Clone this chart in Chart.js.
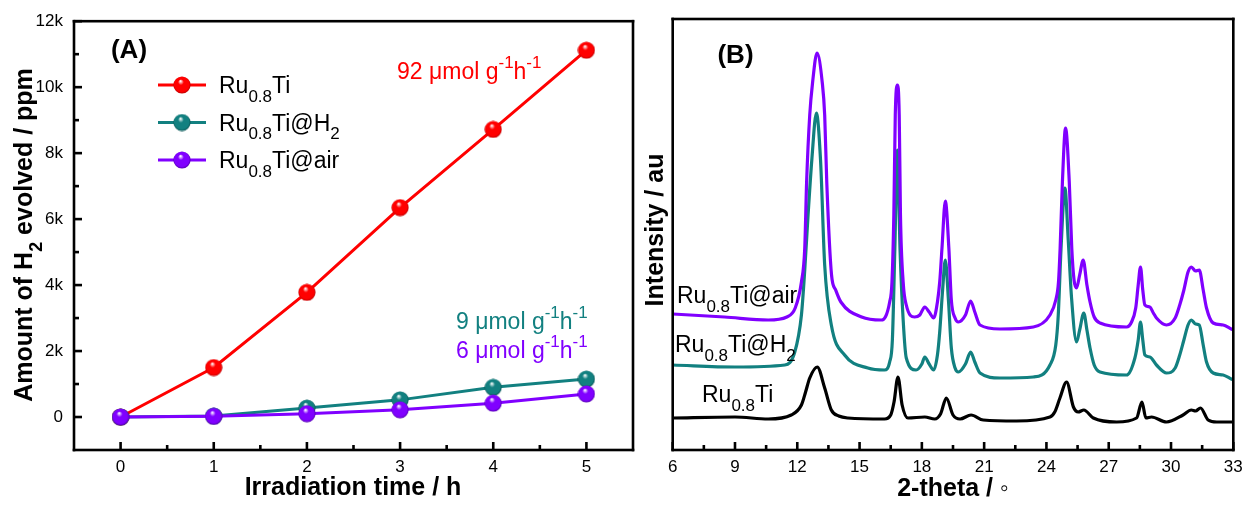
<!DOCTYPE html>
<html>
<head>
<meta charset="utf-8">
<script src="https://cdn.jsdelivr.net/npm/chart.js@4.4.1/dist/chart.umd.min.js"></script>
<style>
html, body { margin: 0; padding: 0; background: #fff; }
#wrap { position: relative; width: 1253px; height: 508px; overflow: hidden; }
#chartA { position: absolute; left: 0; top: 0; }
#chartB { position: absolute; left: 630px; top: 0; }
</style>
</head>
<body>
<div id="wrap">
  <canvas id="chartA" width="645" height="508"></canvas>
  <canvas id="chartB" width="623" height="508"></canvas>
</div>
<script>
// ---- panel (A): H2 evolution ----
const timeH = [0, 1, 2, 3, 4, 5]
const h2Ru = [0, 1500, 3780, 6350, 8720, 11120]
const h2RuH2 = [0, 30, 270, 520, 900, 1150]
const h2RuAir = [0, 20, 100, 220, 420, 700]
const seriesNames = ['Ru_{0.8}Ti', 'Ru_{0.8}Ti@H_{2}', 'Ru_{0.8}Ti@air']
const xTicksA = [0, 1, 2, 3, 4, 5]
const yTicksA = [0, 2000, 4000, 6000, 8000, 10000, 12000]
const yTickLabelsA = ['0', '2k', '4k', '6k', '8k', '10k', '12k']
const rateLabels = ['92 μmol g^{-1}h^{-1}', '9 μmol g^{-1}h^{-1}', '6 μmol g^{-1}h^{-1}']

// ---- panel (B): XRD patterns (intensity in arbitrary units) ----
const thetaAir = [6.0, 8.5, 10.6, 11.5, 11.9, 12.2, 12.36, 12.45, 12.6, 12.74, 12.95, 13.2, 13.32, 13.42, 13.65, 13.85, 14.1, 15.1, 16.05, 16.45, 16.56, 16.65, 16.72, 16.82, 16.91, 16.97, 17.1, 17.25, 17.65, 17.9, 18.14, 18.35, 18.57, 18.75, 18.86, 18.97, 19.13, 19.3, 19.42, 19.6, 19.76, 20.1, 20.35, 20.55, 20.8, 21.76, 23.37, 24.17, 24.45, 24.58, 24.66, 24.77, 24.92, 25.1, 25.22, 25.33, 25.45, 25.6, 25.77, 25.95, 26.1, 26.3, 26.58, 27.86, 28.1, 28.3, 28.42, 28.53, 28.64, 28.74, 28.98, 29.15, 29.3, 29.78, 30.2, 30.42, 30.62, 30.82, 30.98, 31.18, 31.36, 31.55, 31.71, 32.03, 32.51, 32.9, 33.0]
const intAir = [136, 133, 130, 133, 142, 168, 202, 268, 335, 368, 397, 368, 335, 268, 175, 160, 148, 133, 130, 148, 168, 235, 335, 365, 335, 235, 168, 145, 133, 135, 143, 138, 132, 148, 168, 202, 249, 202, 150, 132, 128, 135, 149, 138, 125, 121, 123, 135, 150, 168, 202, 268, 322, 268, 202, 170, 162, 175, 190, 165, 148, 133, 127, 123, 128, 142, 165, 183, 160, 145, 143, 137, 132, 125, 132, 145, 160, 178, 183, 179, 180, 160, 142, 127, 125, 121, 120]
const thetaH2 = [6.0, 9.0, 11.4, 11.88, 12.2, 12.36, 12.52, 12.7, 12.92, 13.12, 13.32, 13.64, 14.28, 15.4, 16.2, 16.45, 16.58, 16.7, 16.82, 16.95, 17.1, 17.25, 17.72, 18.0, 18.14, 18.35, 18.57, 18.75, 18.86, 19.0, 19.13, 19.28, 19.42, 19.6, 19.76, 20.1, 20.35, 20.55, 20.8, 21.76, 23.37, 24.17, 24.45, 24.57, 24.7, 24.89, 25.05, 25.21, 25.45, 25.6, 25.8, 25.95, 26.1, 26.3, 26.58, 27.86, 28.26, 28.42, 28.53, 28.64, 28.74, 28.98, 29.3, 29.78, 30.2, 30.42, 30.62, 30.82, 30.98, 31.18, 31.36, 31.55, 31.71, 32.03, 32.51, 32.9, 33.0]
const intH2 = [85, 83, 85, 98, 135, 180, 235, 290, 337, 290, 185, 125, 95, 82, 80, 88, 110, 202, 300, 200, 130, 92, 80, 86, 93, 86, 80, 95, 118, 160, 190, 150, 102, 82, 78, 86, 98, 88, 77, 72, 73, 85, 105, 135, 200, 262, 210, 152, 108, 120, 137, 120, 102, 85, 78, 75, 92, 110, 128, 110, 95, 93, 85, 77, 82, 95, 110, 125, 130, 126, 125, 105, 88, 77, 75, 71, 70]
const thetaRu = [6.0, 9.0, 10.6, 11.71, 12.2, 12.4, 12.6, 12.96, 13.32, 13.64, 14.0, 14.44, 16.2, 16.5, 16.66, 16.85, 17.05, 17.33, 18.14, 18.62, 18.9, 19.18, 19.5, 19.84, 20.37, 20.96, 22.56, 24.17, 24.4, 24.65, 24.97, 25.3, 25.53, 25.8, 26.26, 27.38, 28.34, 28.6, 28.79, 29.06, 29.78, 30.58, 30.98, 31.18, 31.42, 31.79, 32.2, 33.0]
const intRu = [32, 33, 31, 35, 45, 58, 72, 83, 62, 40, 34, 32, 31, 35, 48, 73, 45, 32, 33, 31, 36, 52, 35, 31, 35, 30, 29, 33, 38, 52, 68, 43, 38, 40, 32, 28, 32, 48, 32, 33, 28, 35, 40, 39, 42, 30, 28, 28]
const xTicksB = [6, 9, 12, 15, 18, 21, 24, 27, 30, 33]

const RED = '#ff0000'
const TEAL = '#128080'
const PURPLE = '#8000ff'
const FONT = 'Arial, "Liberation Sans", sans-serif'

// text with _{sub} and ^{sup} parts
function parseRich(str) {
    let parts = []
    let re = /([_^])\{([^}]*)\}|([^_^]+)/g
    let m
    while ((m = re.exec(str))) {
        if (m[3]) parts.push({t: m[3], k: 0})
        else parts.push({t: m[2], k: m[1] === '_' ? 1 : -1})
    }
    return parts
}

function drawRich(ctx, str, x, y, o) {
    let parts = parseRich(str)
    let small = Math.round(o.size * 0.72)
    let font = (sz) => (o.bold ? 'bold ' : '') + sz + 'px ' + FONT
    let w = 0
    parts.forEach(p => {
        ctx.font = font(p.k ? small : o.size)
        p.w = ctx.measureText(p.t).width
        w += p.w
    })
    ctx.save()
    ctx.translate(x, y)
    if (o.rotate) ctx.rotate(o.rotate)
    let cx = o.align === 'center' ? -w / 2 : (o.align === 'right' ? -w : 0)
    ctx.fillStyle = o.color || '#000'
    ctx.textBaseline = 'alphabetic'
    ctx.textAlign = 'left'
    parts.forEach(p => {
        ctx.font = font(p.k ? small : o.size)
        let dy = p.k === 1 ? o.size * 0.38 : (p.k === -1 ? -o.size * 0.5 : 0)
        ctx.fillText(p.t, cx, dy)
        cx += p.w
    })
    ctx.restore()
}

// shaded sphere used as point marker
function ball(color, shade) {
    let c = document.createElement('canvas')
    c.width = 18
    c.height = 18
    let g = c.getContext('2d')
    let grad = g.createRadialGradient(7.5, 5, 0.3, 9, 9, 9)
    grad.addColorStop(0, '#ffffff')
    grad.addColorStop(0.3, color)
    grad.addColorStop(0.8, color)
    grad.addColorStop(1, shade)
    g.fillStyle = grad
    g.beginPath()
    g.arc(9, 9, 8.6, 0, Math.PI * 2)
    g.fill()
    return c
}

// box around the plot + inward ticks; corners taken from the scales themselves
const frameTicks = {
    id: 'frameTicks',
    afterDraw(chart, args, opts) {
        let ctx = chart.ctx
        let xs = chart.scales.x
        let ys = chart.scales.y
        let L = xs.getPixelForValue(xs.min)
        let R = xs.getPixelForValue(xs.max)
        let T = ys.getPixelForValue(ys.max)
        let B = ys.getPixelForValue(ys.min)
        let lw = 2.6, h = lw / 2
        ctx.save()
        ctx.fillStyle = '#000'
        ctx.fillRect(L - h, T - h, R - L + lw, lw)
        ctx.fillRect(L - h, B - h, R - L + lw, lw)
        ctx.fillRect(L - h, T - h, lw, B - T + lw)
        ctx.fillRect(R - h, T - h, lw, B - T + lw)
        let minorsOf = vals => {
            let out = []
            for (let i = 0; i < vals.length - 1; i++) out.push((vals[i] + vals[i + 1]) / 2)
            return out
        }
        if (opts.x) {
            let vals = xTicksOf[chart.canvas.id]
            vals.forEach(v => ctx.fillRect(xs.getPixelForValue(v) - h, B - 8, lw, 8))
            minorsOf(vals).forEach(v => ctx.fillRect(xs.getPixelForValue(v) - h, B - 5, lw, 5))
        }
        if (opts.y) {
            let vals = yTicksA
            vals.forEach(v => ctx.fillRect(L, ys.getPixelForValue(v) - h, 8, lw))
            minorsOf(vals).forEach(v => ctx.fillRect(L, ys.getPixelForValue(v) - h, 5, lw))
        }
        ctx.restore()
    }
}
const xTicksOf = {chartA: xTicksA, chartB: xTicksB}

const richTexts = {
    id: 'richTexts',
    afterDraw(chart, args, opts) {
        (opts.items || []).forEach(it => drawRich(chart.ctx, it.text, it.x, it.y, it))
    }
}

const ballLegend = {
    id: 'ballLegend',
    afterDraw(chart, args, opts) {
        if (!opts.rows) return
        let ctx = chart.ctx
        chart.data.datasets.forEach((ds, i) => {
            let y = opts.rows[i]
            ctx.save()
            ctx.fillStyle = ds.borderColor
            ctx.fillRect(opts.x1, y - 1.5, opts.x2 - opts.x1, 3)
            ctx.drawImage(ds.pointStyle, (opts.x1 + opts.x2) / 2 - 9, y - 9)
            ctx.restore()
            drawRich(ctx, seriesNames[i], opts.xText, y + 8, {size: 23, color: '#000'})
        })
    }
}

const tickFont = {family: FONT, size: 17}

// ---------- chart A ----------
new Chart(document.getElementById('chartA'), {
    type: 'line',
    data: {
        datasets: [
            {label: seriesNames[0], data: timeH.map((t, i) => ({x: t, y: h2Ru[i]})), borderColor: RED, pointStyle: ball(RED, '#b00000'), order: 2},
            {label: seriesNames[1], data: timeH.map((t, i) => ({x: t, y: h2RuH2[i]})), borderColor: TEAL, pointStyle: ball(TEAL, '#0a4d4d'), order: 1},
            {label: seriesNames[2], data: timeH.map((t, i) => ({x: t, y: h2RuAir[i]})), borderColor: PURPLE, pointStyle: ball(PURPLE, '#4c00a0'), order: 0}
        ].map(d => Object.assign(d, {borderWidth: 3, pointRadius: 9, tension: 0, clip: false}))
    },
    options: {
        responsive: false,
        animation: false,
        layout: {padding: {left: 0, top: 19, right: 11, bottom: 0}},
        scales: {
            x: {
                type: 'linear', min: -0.5, max: 5.5,
                afterBuildTicks: s => { s.ticks = xTicksA.map(v => ({value: v})) },
                afterFit: s => { s.height = 58 },
                grid: {display: false, drawTicks: false},
                border: {display: false},
                ticks: {font: tickFont, color: '#000', padding: 7, maxRotation: 0, autoSkip: false}
            },
            y: {
                type: 'linear', min: -1000, max: 12000,
                afterBuildTicks: s => { s.ticks = yTicksA.map(v => ({value: v})) },
                afterFit: s => { s.width = 74 },
                grid: {display: false, drawTicks: false},
                border: {display: false},
                ticks: {font: tickFont, color: '#000', padding: 11, autoSkip: false,
                    callback: v => yTickLabelsA[yTicksA.indexOf(v)]}
            }
        },
        plugins: {
            legend: {display: false},
            tooltip: {enabled: false},
            frameTicks: {x: true, y: true},
            ballLegend: {x1: 158, x2: 206, xText: 219, rows: [85, 122.5, 160]},
            richTexts: {items: [
                {text: '(A)', x: 129, y: 58, size: 26, bold: true, align: 'center'},
                {text: rateLabels[0], x: 397, y: 79, size: 23, color: RED},
                {text: rateLabels[1], x: 456, y: 329, size: 23, color: TEAL},
                {text: rateLabels[2], x: 456, y: 358, size: 23, color: PURPLE},
                {text: 'Amount of H_{2} evolved / ppm', x: 32, y: 235, size: 25, bold: true, align: 'center', rotate: -Math.PI / 2},
                {text: 'Irradiation time / h', x: 353, y: 495, size: 25, bold: true, align: 'center'}
            ]}
        }
    },
    plugins: [frameTicks, ballLegend, richTexts]
})

// ---------- chart B ----------
new Chart(document.getElementById('chartB'), {
    type: 'line',
    data: {
        datasets: [
            {label: seriesNames[0], data: thetaRu.map((t, i) => ({x: t, y: intRu[i]})), borderColor: '#000', order: 2},
            {label: seriesNames[1], data: thetaH2.map((t, i) => ({x: t, y: intH2[i]})), borderColor: TEAL, order: 1},
            {label: seriesNames[2], data: thetaAir.map((t, i) => ({x: t, y: intAir[i]})), borderColor: PURPLE, order: 0}
        ].map(d => Object.assign(d, {borderWidth: 3.2, pointRadius: 0, cubicInterpolationMode: 'monotone'}))
    },
    options: {
        responsive: false,
        animation: false,
        layout: {padding: {left: 42.7, top: 19, right: 19.7, bottom: 0}},
        scales: {
            x: {
                type: 'linear', min: 6, max: 33,
                afterBuildTicks: s => { s.ticks = xTicksB.map(v => ({value: v})) },
                afterFit: s => { s.height = 58 },
                grid: {display: false, drawTicks: false},
                border: {display: false},
                ticks: {font: tickFont, color: '#000', padding: 7, maxRotation: 0, autoSkip: false}
            },
            y: {type: 'linear', min: 0, max: 431, display: false}
        },
        plugins: {
            legend: {display: false},
            tooltip: {enabled: false},
            frameTicks: {x: true, y: false},
            richTexts: {items: [
                {text: '(B)', x: 105.5, y: 63, size: 26, bold: true, align: 'center'},
                {text: 'Ru_{0.8}Ti@air', x: 47, y: 303, size: 23},
                {text: 'Ru_{0.8}Ti@H_{2}', x: 45, y: 352, size: 23},
                {text: 'Ru_{0.8}Ti', x: 72, y: 402, size: 23},
                {text: 'Intensity / au', x: 33, y: 230, size: 25, bold: true, align: 'center', rotate: -Math.PI / 2},
                {text: '2-theta / ◦', x: 323, y: 496, size: 25, bold: true, align: 'center'}
            ]}
        }
    },
    plugins: [frameTicks, richTexts]
})
</script>
</body>
</html>
